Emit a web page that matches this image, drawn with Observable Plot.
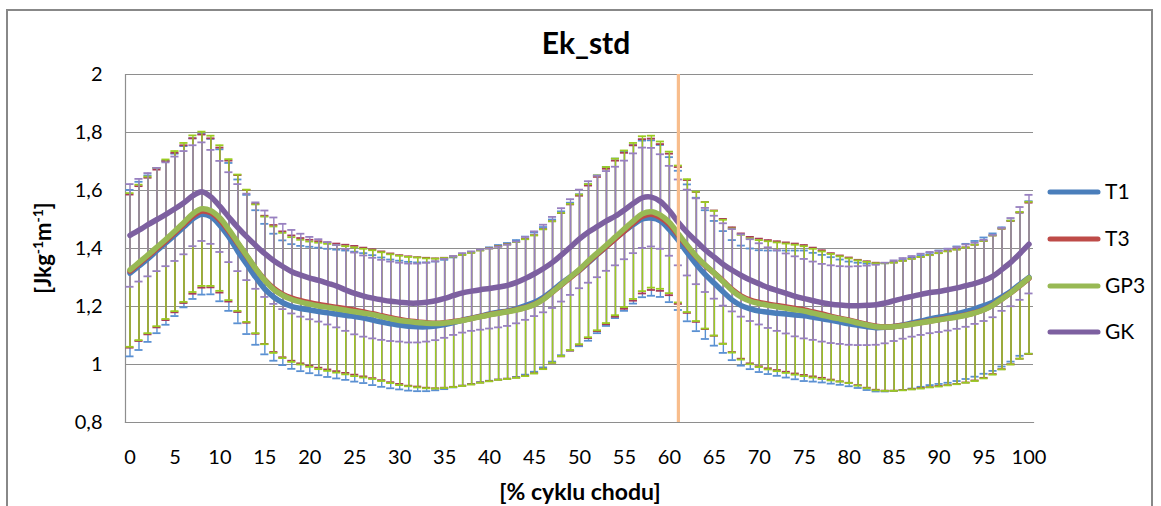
<!DOCTYPE html>
<html><head><meta charset="utf-8">
<script src="https://cdn.jsdelivr.net/npm/d3@7"></script>
<script src="https://cdn.jsdelivr.net/npm/@observablehq/plot@0.6"></script>
<style>body{margin:0;background:#fff;} #chart{position:relative;width:1161px;height:506px;}</style>
</head><body><div id="chart"></div>
<script>
// ---------- data ----------
const categories = d3.range(0, 101); // % of gait cycle
const xTicks = [0,5,10,15,20,25,30,35,40,45,50,55,60,65,70,75,80,85,90,95,100];
const yTicks = [0.8,1.0,1.2,1.4,1.6,1.8,2.0];
const seriesNames = ["T1","T3","GP3","GK"];
const markerX = [61];
const chartTitle = "Ek_std";
const xTitle = "[% cyklu chodu]";

const meanT1 = [1.315,1.34,1.365,1.393,1.42,1.447,1.475,1.503,1.518,1.51,1.48,1.44,1.39,1.345,1.3,1.26,1.232,1.213,1.2,1.193,
1.188,1.183,1.178,1.174,1.17,1.165,1.16,1.153,1.146,1.14,1.136,1.132,1.13,1.13,1.133,1.138,1.145,1.153,1.16,1.167,
1.174,1.18,1.185,1.193,1.203,1.215,1.232,1.255,1.28,1.303,1.325,1.352,1.38,1.407,1.435,1.46,1.483,1.502,1.505,1.495,
1.465,1.428,1.385,1.345,1.31,1.28,1.25,1.222,1.203,1.192,1.184,1.18,1.177,1.174,1.171,1.168,1.163,1.158,1.152,1.146,
1.14,1.135,1.13,1.127,1.128,1.131,1.136,1.143,1.15,1.157,1.163,1.168,1.175,1.183,1.192,1.203,1.215,1.233,1.253,1.277,1.3];
const sdT1 = [.287,.29,.287,.285,.283,.28,.278,.277,.277,.268,.262,.255,.248,.24,.232,.225,.219,.215,.215,.216,
.218,.22,.221,.222,.223,.224,.224,.224,.223,.222,.222,.222,.222,.222,.222,.223,.224,.226,.227,.228,
.23,.232,.234,.236,.238,.24,.242,.245,.248,.255,.262,.27,.272,.274,.275,.275,.273,.27,.268,.262,
.25,.24,.236,.23,.222,.215,.21,.207,.207,.208,.21,.213,.216,.219,.222,.225,.222,.22,.218,.216,
.215,.216,.218,.22,.221,.222,.224,.226,.227,.228,.23,.231,.232,.233,.234,.235,.237,.24,.243,.247,.263];

const meanT3 = [1.322,1.348,1.374,1.4,1.427,1.455,1.484,1.512,1.529,1.523,1.498,1.46,1.417,1.373,1.33,1.292,1.262,1.242,1.229,1.22,
1.213,1.207,1.202,1.197,1.192,1.187,1.181,1.175,1.168,1.161,1.155,1.15,1.147,1.144,1.142,1.144,1.148,1.153,1.159,1.166,
1.172,1.178,1.183,1.189,1.197,1.208,1.226,1.25,1.275,1.3,1.325,1.354,1.381,1.407,1.434,1.461,1.488,1.511,1.518,1.507,
1.483,1.445,1.407,1.371,1.341,1.315,1.287,1.258,1.236,1.222,1.214,1.208,1.203,1.198,1.193,1.188,1.181,1.174,1.166,1.159,
1.153,1.145,1.138,1.132,1.13,1.131,1.135,1.14,1.145,1.15,1.155,1.16,1.165,1.171,1.179,1.19,1.206,1.226,1.248,1.272,1.297];
const sdT3 = [.264,.267,.27,.272,.274,.275,.272,.268,.264,.257,.25,.243,.236,.229,.224,.221,.219,.217,.216,.216,
.217,.218,.219,.22,.221,.222,.222,.222,.222,.222,.222,.223,.223,.224,.224,.224,.225,.226,.227,.228,
.229,.23,.232,.234,.236,.238,.241,.244,.247,.252,.257,.263,.266,.268,.269,.269,.268,.266,.261,.253,
.244,.236,.229,.224,.219,.216,.215,.215,.216,.218,.22,.221,.222,.223,.224,.224,.222,.22,.218,.217,
.216,.216,.218,.219,.22,.221,.223,.225,.226,.228,.229,.231,.232,.233,.234,.236,.239,.242,.247,.252,.261];

const meanGP3 = [1.326,1.352,1.378,1.405,1.432,1.46,1.49,1.52,1.537,1.53,1.505,1.465,1.42,1.375,1.33,1.29,1.258,1.238,1.224,1.215,
1.208,1.202,1.197,1.192,1.187,1.182,1.177,1.172,1.165,1.158,1.152,1.148,1.145,1.142,1.141,1.143,1.147,1.152,1.158,1.165,
1.171,1.177,1.182,1.188,1.196,1.207,1.225,1.25,1.276,1.302,1.328,1.358,1.385,1.412,1.44,1.468,1.495,1.52,1.527,1.515,
1.49,1.45,1.41,1.373,1.342,1.315,1.285,1.255,1.232,1.218,1.21,1.204,1.199,1.194,1.189,1.184,1.177,1.17,1.163,1.157,
1.151,1.143,1.136,1.13,1.129,1.13,1.134,1.139,1.144,1.149,1.154,1.159,1.164,1.17,1.178,1.189,1.205,1.226,1.248,1.273,1.299];
const sdGP3 = [.265,.268,.27,.273,.275,.276,.274,.27,.266,.259,.251,.243,.235,.228,.222,.22,.218,.216,.215,.215,
.216,.218,.219,.22,.221,.222,.222,.222,.222,.222,.223,.223,.224,.224,.224,.224,.225,.226,.227,.228,
.229,.23,.232,.234,.236,.238,.241,.244,.247,.252,.258,.264,.267,.269,.27,.27,.269,.267,.262,.254,
.244,.236,.229,.223,.218,.215,.214,.214,.215,.217,.219,.221,.222,.223,.224,.224,.222,.22,.218,.216,
.215,.216,.218,.219,.22,.221,.223,.225,.227,.228,.23,.231,.232,.233,.235,.237,.24,.243,.248,.253,.262];

const meanGK = [1.445,1.463,1.482,1.5,1.518,1.537,1.558,1.582,1.596,1.578,1.545,1.508,1.472,1.44,1.41,1.382,1.358,1.338,1.32,1.308,
1.298,1.29,1.28,1.27,1.257,1.245,1.236,1.229,1.223,1.218,1.215,1.212,1.212,1.215,1.22,1.228,1.238,1.247,1.253,1.258,
1.262,1.267,1.273,1.283,1.297,1.313,1.331,1.352,1.378,1.405,1.433,1.457,1.476,1.495,1.512,1.533,1.556,1.575,1.577,1.562,
1.53,1.49,1.455,1.425,1.395,1.37,1.345,1.325,1.307,1.291,1.278,1.265,1.255,1.245,1.235,1.227,1.22,1.213,1.208,1.205,
1.203,1.203,1.204,1.206,1.212,1.22,1.228,1.235,1.242,1.248,1.252,1.258,1.264,1.272,1.28,1.29,1.305,1.328,1.353,1.383,1.415];
const sdGK = [.177,.177,.178,.178,.179,.18,.178,.174,.17,.162,.157,.155,.15,.149,.149,.149,.149,.147,.144,.143,
.142,.142,.142,.142,.141,.141,.14,.139,.138,.137,.136,.136,.136,.136,.136,.136,.136,.137,.137,.138,
.138,.139,.14,.141,.143,.146,.151,.157,.161,.165,.17,.175,.175,.172,.17,.17,.172,.173,.17,.163,
.155,.148,.148,.148,.145,.143,.142,.142,.142,.141,.14,.139,.139,.138,.138,.137,.135,.134,.134,.134,
.135,.136,.137,.138,.139,.139,.139,.139,.14,.14,.14,.141,.141,.142,.14,.14,.142,.143,.152,.16,.17];

// ---------- styles ----------
const lineColor = {T1:"#4a7ebb", T3:"#be4b48", GP3:"#98b954", GK:"#7d60a0"};
const barColor  = {T1:"#5a90d2", T3:"#a83c58", GP3:"#9acb22", GK:"#9880c0"};
const FONT = "Lato, 'Open Sans', sans-serif";

const seriesData = {
  T1: [meanT1, sdT1], T3: [meanT3, sdT3], GP3: [meanGP3, sdGP3], GK: [meanGK, sdGK]
};
const rows = [];
for (const s of seriesNames) {
  const [m, sd] = seriesData[s];
  categories.forEach((c, i) => rows.push({series: s, x: c, mean: m[i], lo: m[i] - sd[i], hi: m[i] + sd[i]}));
}
const fmtY = d => String(+d.toFixed(1)).replace(".", ",");

const barMarks = [];
for (const s of seriesNames) {
  const d = rows.filter(r => r.series === s);
  barMarks.push(Plot.ruleX(d, {x: "x", y1: "lo", y2: "hi", stroke: barColor[s], strokeWidth: 1.4}));
  barMarks.push(Plot.ruleY(d, {y: "hi", x1: r => r.x - 0.45, x2: r => r.x + 0.45, stroke: barColor[s], strokeWidth: 1.8}));
  barMarks.push(Plot.ruleY(d, {y: "lo", x1: r => r.x - 0.45, x2: r => r.x + 0.45, stroke: barColor[s], strokeWidth: 1.8}));
}
const lineMarks = seriesNames.map(s => Plot.line(rows.filter(r => r.series === s), {
  x: "x", y: "mean", stroke: lineColor[s], strokeWidth: 5.5, curve: "catmull-rom", strokeLinejoin: "round", strokeLinecap: "round"
}));

const W = 1161, H = 506;
const plot = Plot.plot({
  width: W, height: H,
  marginLeft: 125, marginRight: 128, marginTop: 74, marginBottom: 84,
  style: {fontFamily: FONT, fontSize: "20px", color: "#000", background: "#fff", overflow: "visible"},
  x: {domain: [-0.5, 100.5]},
  y: {domain: [0.8, 2]},
  marks: [
    Plot.gridY(yTicks, {stroke: "#8e8e8e", strokeOpacity: 1, strokeWidth: 1.2}),
    Plot.frame({anchor: "left", stroke: "#8e8e8e", strokeWidth: 1.2}),
    Plot.frame({anchor: "bottom", stroke: "#8e8e8e", strokeWidth: 1.2}),
    ...barMarks,
    ...lineMarks,
    Plot.ruleX(markerX, {stroke: "#f8bd8c", strokeWidth: 3.2}),
    Plot.axisX(xTicks, {tickSize: 0, tickPadding: 27, label: null, fill: "#000", fontSize: 20}),
    Plot.axisY(yTicks, {tickSize: 0, tickPadding: 23, label: null, tickFormat: fmtY, fill: "#000", fontSize: 20})
  ]
});
document.getElementById("chart").appendChild(plot);

// ---------- titles, legend, border ----------
const svg = d3.select(plot);
svg.insert("rect", ":first-child").attr("x", 7).attr("y", 10).attr("width", 1145).attr("height", 520)
  .attr("fill", "#fff").attr("stroke", "#888").attr("stroke-width", 2);
svg.append("text").attr("x", 586).attr("y", 54).attr("text-anchor", "middle")
  .attr("font-family", FONT).attr("font-weight", "bold").attr("font-size", 30).text(chartTitle);
svg.append("text").attr("x", 580).attr("y", 500).attr("text-anchor", "middle")
  .attr("font-family", FONT).attr("font-weight", "bold").attr("font-size", 23).text(xTitle);
const yt = svg.append("text").attr("transform", "translate(51,248) rotate(-90)").attr("text-anchor", "middle")
  .attr("font-family", FONT).attr("font-weight", "bold").attr("font-size", 22);
yt.append("tspan").text("[Jkg");
yt.append("tspan").attr("font-size", 14).attr("dy", -8).text("-1");
yt.append("tspan").attr("dy", 8).text("m");
yt.append("tspan").attr("font-size", 14).attr("dy", -8).text("-1");
yt.append("tspan").attr("dy", 8).text("]");

const legendY = [192, 239, 286, 332];
seriesNames.forEach((s, i) => {
  svg.append("line").attr("x1", 1050).attr("x2", 1098).attr("y1", legendY[i]).attr("y2", legendY[i])
    .attr("stroke", lineColor[s]).attr("stroke-width", 5).attr("stroke-linecap", "round");
  svg.append("text").attr("x", 1105).attr("y", legendY[i]).attr("dy", "0.35em").attr("text-anchor", "start")
    .attr("font-family", FONT).attr("font-size", 21).text(s);
});
</script>
</body></html>
